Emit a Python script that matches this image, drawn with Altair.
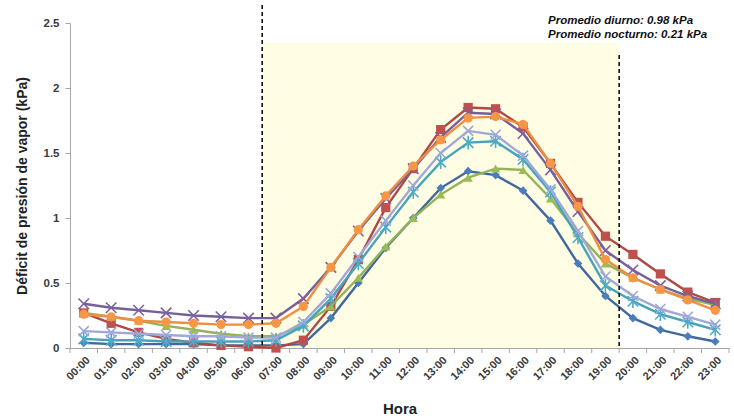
import json
import altair as alt
import pandas as pd

# ---------------- data ----------------
hour_labels = ["00:00", "01:00", "02:00", "03:00", "04:00", "05:00", "06:00", "07:00",
               "08:00", "09:00", "10:00", "11:00", "12:00", "13:00", "14:00", "15:00",
               "16:00", "17:00", "18:00", "19:00", "20:00", "21:00", "22:00", "23:00"]

s_blue = [0.04, 0.03, 0.03, 0.03, 0.03, 0.02, 0.02, 0.02, 0.03, 0.23, 0.50, 0.77,
          1.00, 1.23, 1.36, 1.33, 1.21, 0.98, 0.65, 0.40, 0.23, 0.14, 0.09, 0.05]
s_red = [0.27, 0.19, 0.12, 0.07, 0.04, 0.02, 0.01, 0.00, 0.06, 0.32, 0.68, 1.08,
         1.38, 1.68, 1.85, 1.84, 1.70, 1.42, 1.12, 0.86, 0.72, 0.57, 0.43, 0.35]
s_green = [0.27, 0.24, 0.21, 0.17, 0.14, 0.11, 0.09, 0.09, 0.18, 0.32, 0.54, 0.78,
           1.00, 1.18, 1.31, 1.38, 1.37, 1.15, 0.88, 0.65, 0.54, 0.45, 0.38, 0.33]
s_purple = [0.34, 0.31, 0.29, 0.27, 0.25, 0.24, 0.23, 0.23, 0.38, 0.62, 0.90, 1.15,
            1.38, 1.62, 1.81, 1.80, 1.65, 1.37, 1.05, 0.75, 0.60, 0.48, 0.40, 0.34]
s_cyan = [0.07, 0.06, 0.06, 0.05, 0.05, 0.05, 0.05, 0.06, 0.17, 0.38, 0.65, 0.93,
          1.20, 1.43, 1.58, 1.59, 1.45, 1.20, 0.85, 0.48, 0.36, 0.26, 0.20, 0.14]
s_orange = [0.26, 0.24, 0.21, 0.20, 0.19, 0.18, 0.18, 0.19, 0.32, 0.62, 0.91, 1.17,
            1.40, 1.60, 1.77, 1.78, 1.72, 1.42, 1.09, 0.68, 0.54, 0.45, 0.37, 0.29]
s_lav = [0.13, 0.12, 0.11, 0.10, 0.09, 0.09, 0.08, 0.08, 0.20, 0.42, 0.70, 0.98,
         1.25, 1.50, 1.67, 1.64, 1.48, 1.22, 0.90, 0.55, 0.40, 0.30, 0.24, 0.18]

day_first_hour = 7
day_last_hour = 19
note_lines = ["Promedio diurno: 0.98 kPa", "Promedio nocturno: 0.21 kPa"]
y_ticks = [0, 0.5, 1, 1.5, 2, 2.5]

# ---------------- styling ----------------
W, H = 659, 325
FONT = "Liberation Sans"
X_PATH = "M-1,-1L1,1M-1,1L1,-1"
STAR_PATH = "M-1,-1L1,1M-1,1L1,-1M0,-1.3L0,1.3"

series = [
    # values, line color, marker color, shape, filled, size
    (s_blue, "#41689F", "#4A7EBB", "diamond", True, 75),
    (s_red, "#B04845", "#C0504D", "square", True, 85),
    (s_green, "#93B356", "#9BBB59", "triangle-up", True, 85),
    (s_purple, "#76609A", "#7D60A0", X_PATH, False, 110),
    (s_cyan, "#46A3BC", "#4BACC6", STAR_PATH, False, 110),
    (s_orange, "#EE8E42", "#F79646", "circle", True, 85),
    (s_lav, "#A0A8D8", "#9DA7DA", X_PATH, False, 100),
]

xscale = alt.Scale(domain=[-0.5, len(hour_labels) - 0.5], nice=False, zero=False)
yscale = alt.Scale(domain=[0, 2.5], nice=False, zero=True)

label_expr = json.dumps(hour_labels) + "[datum.value]"

XAXIS = alt.Axis(
    values=list(range(len(hour_labels))), labelExpr=label_expr,
    labelAngle=315, labelAlign="right", labelBaseline="top",
    labelPadding=6, ticks=False, domain=True, domainColor="#A6A6A6",
    grid=False, labelFont=FONT, labelFontSize=11, labelFontWeight="bold",
    labelColor="#3A3A3A", title="Hora", titleFont=FONT, titleFontSize=15,
    titleFontWeight="bold", titleColor="#222222", titleY=60,
    titleBaseline="middle", labelOverlap=False,
)
YAXIS = alt.Axis(
    values=y_ticks, labelExpr="format(datum.value, '')",
    tickSize=5, tickColor="#A6A6A6", domainColor="#A6A6A6", grid=False,
    labelFont=FONT, labelFontSize=11.5, labelFontWeight="bold",
    labelColor="#3A3A3A", labelPadding=6,
    title="Déficit de presión de vapor (kPa)", titleFont=FONT,
    titleFontSize=14, titleFontWeight="bold", titleColor="#222222",
    titleX=-48, titleY=H / 2, titleAngle=270, titleAlign="center",
    titleBaseline="middle",
)

# shaded daytime region
bounds = pd.DataFrame({"a": [day_first_hour - 0.5], "b": [day_last_hour + 0.5]})
shade = alt.Chart(bounds).mark_rect(color="#FFFDE3").encode(
    x=alt.X("a:Q", scale=xscale, axis=XAXIS),
    x2="b:Q",
    y=alt.value(20),
    y2=alt.value(H),
)
rule_left = alt.Chart(bounds).mark_rule(color="#111111", strokeWidth=1.6, strokeDash=[4, 3]).encode(
    x=alt.X("a:Q", scale=xscale, axis=XAXIS),
    y=alt.value(-18),
    y2=alt.value(H),
)
rule_right = alt.Chart(bounds).mark_rule(color="#111111", strokeWidth=1.6, strokeDash=[4, 3]).encode(
    x=alt.X("b:Q", scale=xscale, axis=XAXIS),
    y=alt.value(32),
    y2=alt.value(H),
)

# category boundary ticks on x axis
edges = pd.DataFrame({"e": [i - 0.5 for i in range(len(hour_labels) + 1)]})
xticks = alt.Chart(edges).mark_rule(color="#A6A6A6", strokeWidth=1).encode(
    x=alt.X("e:Q", scale=xscale, axis=XAXIS),
    y=alt.value(H),
    y2=alt.value(H + 5),
)

layers = [shade, xticks]

for vals, lcol, mcol, shape, filled, size in series:
    df = pd.DataFrame({"i": list(range(len(vals))), "v": vals})
    xenc = alt.X("i:Q", scale=xscale, axis=XAXIS)
    yenc = alt.Y("v:Q", scale=yscale, axis=YAXIS)
    line = alt.Chart(df).mark_line(color=lcol, strokeWidth=2.4).encode(x=xenc, y=yenc)
    if filled:
        pts = alt.Chart(df).mark_point(shape=shape, filled=True, size=size, color=mcol,
                                       opacity=1).encode(x=xenc, y=yenc)
    else:
        pts = alt.Chart(df).mark_point(shape=shape, filled=False, size=size, color=mcol,
                                       strokeWidth=1.6, opacity=1).encode(x=xenc, y=yenc)
    layers += [line, pts]

layers += [rule_left, rule_right]

note_style = dict(font=FONT, fontSize=11.5, fontWeight="bold", fontStyle="italic",
                  align="left", baseline="alphabetic", color="#111111")
notes = [
    alt.Chart(pd.DataFrame({"t": [note_lines[0]]})).mark_text(**note_style).encode(
        text="t:N", x=alt.value(478), y=alt.value(1)),
    alt.Chart(pd.DataFrame({"t": [note_lines[1]]})).mark_text(**note_style).encode(
        text="t:N", x=alt.value(478), y=alt.value(15)),
]
layers += notes

chart = alt.layer(*layers).properties(
    width=W, height=H,
    autosize=alt.AutoSizeParams(type="none"),
    padding={"left": 70, "top": 23, "right": 5, "bottom": 72},
    background="white",
).configure_view(stroke=None)

chart.save("out.html", embed_options={"renderer": "svg", "actions": False})
